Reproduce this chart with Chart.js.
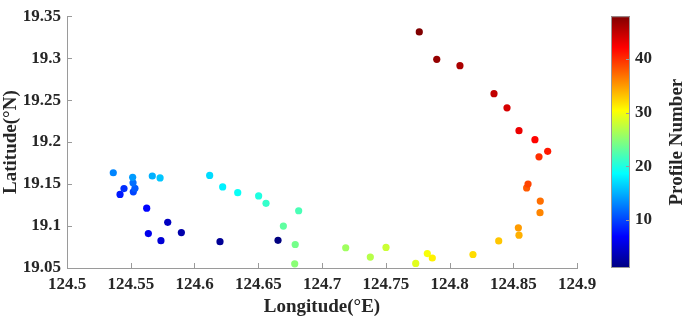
<!DOCTYPE html>
<html>
<head>
<meta charset="utf-8">
<script src="https://cdn.jsdelivr.net/npm/chart.js@4"></script>
<style>
  html, body { margin: 0; padding: 0; background: #fff; }
  #wrap { width: 685px; height: 318px; }
</style>
</head>
<body>
<div id="wrap"><canvas id="track"></canvas></div>
<script>
// profile positions
const profileNumbers = [1, 2, 3, 4, 5, 6, 7, 8, 9, 10, 11, 12, 13, 14, 15, 16,
  17, 18, 19, 20, 21, 22, 23, 24, 25, 26, 27, 28, 29, 30, 31, 32,
  33, 34, 35, 36, 37, 38, 39, 40, 41, 42, 43, 44, 45, 46, 47, 48];
const longitudes = [124.6655, 124.620, 124.5897, 124.579, 124.5737, 124.5638, 124.5625, 124.5416,
  124.5447, 124.552, 124.5533, 124.5518, 124.5363, 124.5515, 124.5669, 124.573,
  124.6119, 124.6221, 124.6339, 124.6503, 124.6561, 124.6817, 124.6697, 124.679,
  124.6786, 124.7186, 124.7379, 124.7502, 124.7735, 124.7826, 124.7865, 124.8184,
  124.8386, 124.8545, 124.854, 124.871, 124.8712, 124.8605, 124.8616, 124.8702,
  124.877, 124.867, 124.8545, 124.8451, 124.8349, 124.8082, 124.790, 124.7763];
const latitudes = [19.083, 19.0814, 19.0922, 19.1044, 19.0826, 19.091, 19.1213, 19.1377,
  19.1446, 19.1408, 19.145, 19.1515, 19.1635, 19.158, 19.1596, 19.1573,
  19.1603, 19.1466, 19.1397, 19.1359, 19.127, 19.1182, 19.100, 19.078,
  19.055, 19.0741, 19.063, 19.0745, 19.0554, 19.0672, 19.0619, 19.0661,
  19.0822, 19.0891, 19.0979, 19.1159, 19.1297, 19.1454, 19.150, 19.1825,
  19.189, 19.2029, 19.2136, 19.2408, 19.2577, 19.291, 19.2986, 19.3313];
const colorbarTicks = [10, 20, 30, 40];
const cMin = 1, cMax = 48;

// matlab jet
function jet(v) {
  const t = Math.min(1, Math.max(0, (v - cMin) / (cMax - cMin)));
  const c = x => Math.round(255 * Math.min(1, Math.max(0, x)));
  const r = c(1.5 - Math.abs(4 * t - 3));
  const g = c(1.5 - Math.abs(4 * t - 2));
  const b = c(1.5 - Math.abs(4 * t - 1));
  return 'rgb(' + r + ',' + g + ',' + b + ')';
}

const points = longitudes.map((lon, i) => ({ x: lon, y: latitudes[i] }));
const axisGrey = '#9a9a9a';
const fmt = v => String(+(+v).toFixed(2));

Chart.defaults.font.family = "'Liberation Serif', 'Times New Roman', serif";
Chart.defaults.font.weight = 'bold';
Chart.defaults.color = '#262626';

// inward ticks + colorbar
const extras = {
  id: 'extras',
  afterDraw(chart) {
    const { ctx, chartArea: a, scales: { x, y } } = chart;
    ctx.save();
    ctx.strokeStyle = axisGrey;
    ctx.lineWidth = 1;
    ctx.beginPath();
    x.ticks.forEach(t => {
      const px = Math.round(x.getPixelForValue(t.value)) + 0.5;
      ctx.moveTo(px, a.bottom); ctx.lineTo(px, a.bottom - 5);
    });
    y.ticks.forEach(t => {
      const py = Math.round(y.getPixelForValue(t.value)) + 0.5;
      ctx.moveTo(a.left, py); ctx.lineTo(a.left + 5, py);
    });
    ctx.stroke();

    // colorbar
    const cbL = a.right + 34, cbW = 19, top = a.top, bot = a.bottom;
    const grad = ctx.createLinearGradient(0, bot, 0, top);
    for (let k = 0; k <= 40; k++) {
      grad.addColorStop(k / 40, jet(cMin + (cMax - cMin) * k / 40));
    }
    ctx.fillStyle = grad;
    ctx.fillRect(cbL, top, cbW, bot - top);
    ctx.strokeStyle = axisGrey;
    ctx.strokeRect(cbL + 0.5, top + 0.5, cbW - 1, bot - top - 1);
    ctx.fillStyle = '#262626';
    ctx.font = "bold 17px 'Liberation Serif', serif";
    ctx.textBaseline = 'middle';
    ctx.textAlign = 'left';
    ctx.beginPath();
    colorbarTicks.forEach(v => {
      const py = bot - (v - cMin) / (cMax - cMin) * (bot - top);
      ctx.moveTo(cbL + cbW - 4, Math.round(py) + 0.5);
      ctx.lineTo(cbL + cbW, Math.round(py) + 0.5);
      ctx.fillText(String(v), cbL + cbW + 5, py);
    });
    ctx.stroke();
    ctx.translate(cbL + cbW + 47, (top + bot) / 2);
    ctx.rotate(-Math.PI / 2);
    ctx.textAlign = 'center';
    ctx.font = "bold 19px 'Liberation Serif', serif";
    ctx.fillText('Profile Number', 0, 0);
    ctx.restore();
  }
};

new Chart(document.getElementById('track'), {
  type: 'scatter',
  data: {
    datasets: [{
      data: points,
      pointRadius: 3.6,
      pointHoverRadius: 3.6,
      pointBorderWidth: 0,
      backgroundColor: c => jet(profileNumbers[c.dataIndex])
    }]
  },
  options: {
    responsive: true,
    maintainAspectRatio: false,
    animation: false,
    layout: { padding: { top: 7, right: 108, left: 0, bottom: 0 } },
    plugins: { legend: { display: false }, tooltip: { enabled: false } },
    scales: {
      x: {
        type: 'linear',
        min: 124.5, max: 124.9,
        afterFit: s => { s.height = 50; },
        grid: { display: false, drawTicks: false },
        border: { display: true, color: axisGrey },
        ticks: { stepSize: 0.05, padding: 6, font: { size: 17 }, callback: fmt, maxRotation: 0, autoSkip: false },
        title: { display: true, text: 'Longitude(°E)', font: { size: 19 }, padding: { top: 0, bottom: 0 } }
      },
      y: {
        min: 19.05, max: 19.35,
        afterFit: s => { s.width = 67; },
        grid: { display: false, drawTicks: false },
        border: { display: true, color: axisGrey },
        ticks: { stepSize: 0.05, padding: 6, font: { size: 17 }, callback: fmt, autoSkip: false },
        title: { display: true, text: 'Latitude(°N)', font: { size: 19 }, padding: { top: 0, bottom: 0 } }
      }
    }
  },
  plugins: [extras]
});
</script>
</body>
</html>
